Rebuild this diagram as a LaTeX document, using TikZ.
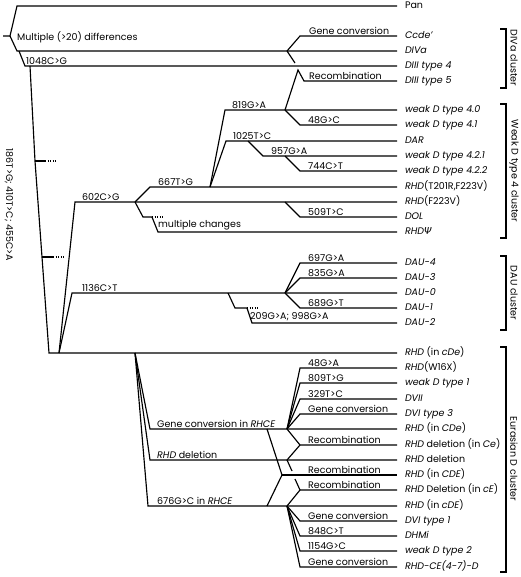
\documentclass[tikz,border=0pt]{standalone}
\usepackage{fontspec}
\setmainfont{Poppins}
\newfontfamily\greekfont{DejaVu Sans}
\usetikzlibrary{positioning}
\begin{document}
\begin{tikzpicture}[x=1pt,y=-1pt,
  font=\fontsize{9.5}{11}\selectfont,
  br/.style={line width=1.15pt, line join=miter},
  stub/.style={line width=1.15pt, dash pattern=on 1pt off 1.6pt},
  leaf/.style={anchor=west, inner sep=0pt, outer xsep=8pt, text height=6.5pt, text depth=1.5pt},
  lab/.style={anchor=south west, inner xsep=0pt, inner ysep=1.5pt},
  clus/.style={rotate=-90, inner sep=0pt}]
\useasboundingbox (0,0) rectangle (520,577);
% leaves
\node[leaf] (pan) at (397,6) {Pan};
\node[leaf] (ccde) at (397,36) {\itshape Ccde'};
\node[leaf] (diva) at (397,51) {\itshape DIVa};
\node[leaf] (diiiiv) at (397,66) {\itshape DIII type 4};
\node[leaf] (diiiv) at (397,81) {\itshape DIII type 5};
\node[leaf] (wiv0) at (397,110) {\itshape weak D type 4.0};
\node[leaf] (wiv1) at (397,125) {\itshape weak D type 4.1};
\node[leaf] (dar) at (397,141) {\itshape DAR};
\node[leaf] (wiva) at (397,156) {\itshape weak D type 4.2.1};
\node[leaf] (wivb) at (397,171) {\itshape weak D type 4.2.2};
\node[leaf] (tcc) at (397,187) {\textit{RHD}(T201R,F223V)};
\node[leaf] (fcc) at (397,202) {\textit{RHD}(F223V)};
\node[leaf] (dol) at (397,217) {\itshape DOL};
\node[leaf] (psi) at (397,232) {\itshape RHD{\greekfont Ψ}};
\node[leaf] (dauiv) at (397,263) {\itshape DAU-4};
\node[leaf] (dauiii) at (397,278) {\itshape DAU-3};
\node[leaf] (dau0) at (397,293) {\itshape DAU-0};
\node[leaf] (daui) at (397,308) {\itshape DAU-1};
\node[leaf] (dauii) at (397,323) {\itshape DAU-2};
\node[leaf] (cDe) at (397,353) {\textit{RHD} (in \textit{cDe})};
\node[leaf] (wxvi) at (397,368) {\textit{RHD}(W16X)};
\node[leaf] (wdi) at (397,383) {\itshape weak D type 1};
\node[leaf] (dvii) at (397,399) {\itshape DVII};
\node[leaf] (dviiii) at (397,414) {\itshape DVI type 3};
\node[leaf] (CDe) at (397,429) {\textit{RHD} (in \textit{CDe})};
\node[leaf] (delCe) at (397,445) {\textit{RHD} deletion (in \textit{Ce})};
\node[leaf] (del) at (397,460) {\textit{RHD} deletion};
\node[leaf] (CDE) at (397,475) {\textit{RHD} (in \textit{CDE})};
\node[leaf] (delcE) at (397,490) {\textit{RHD} Deletion (in \textit{cE})};
\node[leaf] (cDE) at (397,506) {\textit{RHD} (in \textit{cDE})};
\node[leaf] (dvii1) at (397,521) {\itshape DVI type 1};
\node[leaf] (dhmi) at (397,536) {\itshape DHMi};
\node[leaf] (wdii) at (397,551) {\itshape weak D type 2};
\node[leaf] (rcer) at (397,567) {\itshape RHD-CE(4-7)-D};
% root and trunk
\coordinate (rootL) at (3,36);
\coordinate (rootV) at (10,36);
\coordinate (rootT) at (17,6);
\coordinate (rootB) at (17,51);
\coordinate (multN) at (19,51);
\coordinate (nmxl) at (25,66);
\coordinate (trk0) at (30,66);
\coordinate (trk1) at (35,161);
\coordinate (trk2) at (42,257);
\coordinate (trk3) at (49,353);
\coordinate (stA) at (45,161);
\coordinate (stAe) at (57,161);
\coordinate (stB) at (53,257);
\coordinate (stBe) at (64,257);
\draw[br] (rootL) -- (rootV) -- (rootT) -- (pan);
\draw[br] (rootV) -- (rootB) -- (diva);
\draw[br] (multN) -- (nmxl) -- (diiiiv);
\draw[br] (trk0) -- (trk1) -- (trk2) -- (trk3) -- (cDe);
\draw[br] (trk1) -- (stA); \draw[stub] (stA) -- (stAe);
\draw[br] (trk2) -- (stB); \draw[stub] (stB) -- (stBe);
% DIVa cluster
\coordinate (dva) at (287,51);
\coordinate (nccde) at (300,36);
\coordinate (dvx) at (295,63);
\coordinate (recv) at (298,70);
\coordinate (recvb) at (304,81);
\draw[br] (dva) -- (nccde) -- (ccde);
\draw[br] (dva) -- (dvx);
% weak D type 4 cluster
\coordinate (eu0) at (59,353);
\coordinate (nvi) at (75,202);
\coordinate (nvia) at (135,202);
\coordinate (nvvi) at (150,187);
\coordinate (mcA) at (143,217);
\coordinate (mcB) at (152,217);
\coordinate (mcC) at (165,217);
\coordinate (mcD) at (158,232);
\coordinate (nvvib) at (210,187);
\coordinate (nviii) at (225,110);
\coordinate (nviiia) at (285,110);
\coordinate (nxlviii) at (300,125);
\coordinate (nx) at (226,141);
\coordinate (nxa) at (248,141);
\coordinate (nix) at (263,156);
\coordinate (nixa) at (285,156);
\coordinate (nvii) at (300,171);
\coordinate (nfa) at (285,202);
\coordinate (nv) at (300,217);
\draw[br] (eu0) -- (nvi) -- (fcc);
\draw[br] (nvia) -- (nvvi) -- (tcc);
\draw[br] (nvia) -- (mcA) -- (mcB); \draw[stub] (mcB) -- (mcC);
\draw[br] (mcB) -- (mcD) -- (psi);
\draw[br] (nvvib) -- (nviii) -- (wiv0);
\draw[br] (nvvib) -- (nx) -- (dar);
\draw[br] (nviiia) -- (nxlviii) -- (wiv1);
\draw[br] (nviiia) -- (recv) -- (recvb) -- (diiiv);
\draw[br] (nxa) -- (nix) -- (wiva);
\draw[br] (nixa) -- (nvii) -- (wivb);
\draw[br] (nfa) -- (nv) -- (dol);
% DAU cluster
\coordinate (nxi) at (72,293);
\coordinate (dua) at (228,293);
\coordinate (duA) at (235,308);
\coordinate (duB) at (247,308);
\coordinate (duC) at (258,308);
\coordinate (nii) at (252,323);
\coordinate (dub) at (285,293);
\coordinate (nvi7) at (300,263);
\coordinate (nviii5) at (300,278);
\coordinate (nvi8) at (300,308);
\draw[br] (eu0) -- (nxi) -- (dau0);
\draw[br] (dua) -- (duA) -- (duB); \draw[stub] (duB) -- (duC);
\draw[br] (duB) -- (nii) -- (dauii);
\draw[br] (dub) -- (nvi7) -- (dauiv);
\draw[br] (dub) -- (nviii5) -- (dauiii);
\draw[br] (dub) -- (nvi8) -- (daui);
% Eurasian D cluster
\coordinate (eu1) at (135,353);
\coordinate (ngc) at (150,429);
\coordinate (ndel) at (150,460);
\coordinate (nvix) at (148,506);
\coordinate (gca) at (287,429);
\coordinate (nxlv) at (300,368);
\coordinate (nviiii) at (300,383);
\coordinate (niii) at (300,399);
\coordinate (ngcb) at (300,414);
\coordinate (vxa) at (287,506);
\coordinate (ngcc) at (300,521);
\coordinate (nviiiv) at (300,536);
\coordinate (nxv) at (300,551);
\coordinate (ngcd) at (300,567);
\draw[br] (eu1) -- (ngc) -- (CDe);
\draw[br] (eu1) -- (ndel) -- (del);
\draw[br] (eu1) -- (nvix) -- (cDE);
\draw[br] (gca) -- (nxlv) -- (wxvi);
\draw[br] (gca) -- (nviiii) -- (wdi);
\draw[br] (gca) -- (niii) -- (dvii);
\draw[br] (gca) -- (ngcb) -- (dviiii);
\draw[br] (vxa) -- (ngcc) -- (dvii1);
\draw[br] (vxa) -- (nviiiv) -- (dhmi);
\draw[br] (vxa) -- (nxv) -- (wdii);
\draw[br] (vxa) -- (ngcd) -- (rcer);
% recombinations
\coordinate (dla) at (287,460);
\coordinate (rce) at (300,445);
\coordinate (rcda) at (267,429);
\coordinate (rcdb) at (267,506);
\coordinate (rcd) at (282,475);
\coordinate (rcde) at (300,475);
\coordinate (dlx) at (292,471);
\coordinate (dly) at (295,479);
\coordinate (rcE) at (300,490);
\draw[br] (gca) -- (rce) -- (delCe);
\draw[br] (dla) -- (rce);
\draw[br] (rcda) -- (rcd) -- (rcdb);
\draw[br] (rcd) -- (rcde) -- (CDE);
\draw[br] (dla) -- (dlx);
\draw[br] (dly) -- (rcE) -- (delcE);
\draw[br] (vxa) -- (rcE);
% branch labels
\node[lab, anchor=west] (lmul) at (17,37) {Multiple (>20) differences};
\node[lab] (lmxl) at (26,66) {1048C>G};
\node[lab] (lgca) at (309,36) {Gene conversion};
\node[lab] (lrea) at (309,81) {Recombination};
\node[lab] (lviii) at (232,110) {819G>A};
\node[lab] (lxlviii) at (308,125) {48G>C};
\node[lab] (lx) at (233,141) {1025T>C};
\node[lab] (lix) at (271,156) {957G>A};
\node[lab] (lvii) at (308,171) {744C>T};
\node[lab] (lvvi) at (158,187) {667T>G};
\node[lab] (lvi) at (82,202) {602C>G};
\node[lab] (lv) at (308,217) {509T>C};
\node[lab] (lmc) at (158,232) {multiple changes};
\node[lab] (lvi7) at (308,263) {697G>A};
\node[lab] (lviii5) at (308,278) {835G>A};
\node[lab] (lxi) at (82,293) {1136C>T};
\node[lab] (lvi8) at (308,308) {689G>T};
\node[lab] (lii) at (250,323) {209G>A; 998G>A};
\node[lab] (lxlv) at (308,368) {48G>A};
\node[lab] (lviiii) at (308,383) {809T>G};
\node[lab] (liii) at (308,399) {329T>C};
\node[lab] (lgcb) at (308,414) {Gene conversion};
\node[lab] (lgc) at (157,429) {Gene conversion in \textit{RHCE}};
\node[lab] (lreb) at (308,445) {Recombination};
\node[lab] (ldel) at (157,460) {\textit{RHD} deletion};
\node[lab] (lrec) at (308,475) {Recombination};
\node[lab] (lred) at (308,490) {Recombination};
\node[lab] (lvix) at (157,506) {676G>C in \textit{RHCE}};
\node[lab] (lgcc) at (308,521) {Gene conversion};
\node[lab] (lviiiv) at (308,536) {848C>T};
\node[lab] (lxv) at (308,551) {1154G>C};
\node[lab] (lgcd) at (308,567) {Gene conversion};
\node[clus] (ltrunk) at (9,205) {186T>G; 410T>C; 455C>A};
% cluster brackets
\coordinate (bdvT) at (500,29); \coordinate (bdvB) at (500,88);
\coordinate (bwT) at (500,104); \coordinate (bwB) at (500,238);
\coordinate (bdaT) at (500,256); \coordinate (bdaB) at (500,330);
\coordinate (beuT) at (500,347); \coordinate (beuB) at (500,572);
\draw[br] (bdvT) -- ++(6,0) |- (bdvB);
\draw[br] (bwT) -- ++(6,0) |- (bwB);
\draw[br] (bdaT) -- ++(6,0) |- (bdaB);
\draw[br] (beuT) -- ++(6,0) |- (beuB);
\node[clus] (cdv) at (514,58) {DIVa cluster};
\node[clus] (cw) at (514,171) {Weak D type 4 cluster};
\node[clus] (cda) at (514,293) {DAU cluster};
\node[clus] (ceu) at (514,459) {Eurasian D cluster};
\end{tikzpicture}
\end{document}
